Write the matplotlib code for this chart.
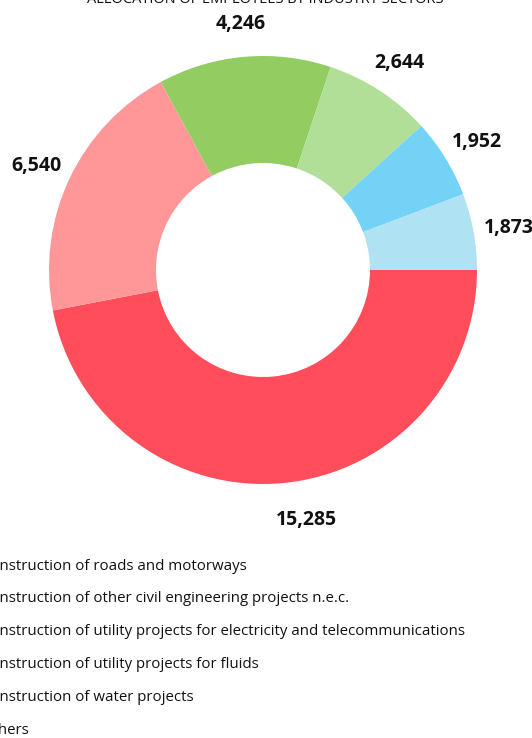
import matplotlib
matplotlib.use("Agg")
import matplotlib.pyplot as plt
import numpy as np

title = "ALLOCATION OF EMPLOYEES BY INDUSTRY SECTORS"
categories = [
    "Construction of roads and motorways",
    "Construction of other civil engineering projects n.e.c.",
    "Construction of utility projects for electricity and telecommunications",
    "Construction of utility projects for fluids",
    "Construction of water projects",
    "Others",
]
values = [15285, 6540, 4246, 2644, 1952, 1873]
colors = ["#FF4D5C", "#FF9799", "#93CD62", "#B2DF97", "#74D2F6", "#AFE2F3"]

plt.rcParams['font.family'] = ['Open Sans', 'DejaVu Sans']

W, H = 532, 738
fig = plt.figure(figsize=(W / 100, H / 100), dpi=100)
cx, cy, R = 263, 270, 214
ax = fig.add_axes([(cx - R) / W, (H - cy - R) / H, 2 * R / W, 2 * R / H])
wedges, _ = ax.pie(values, colors=colors, startangle=0, counterclock=False,
                   radius=1.0, wedgeprops=dict(width=0.5, linewidth=0))
ax.set_xlim(-1, 1)
ax.set_ylim(-1, 1)
ax.set_aspect('equal')
ax.axis('off')

for i, (w, v) in enumerate(zip(wedges, values)):
    mid = (w.theta1 + w.theta2) / 2
    if i == 0:
        mid += 4.5
    ang = np.deg2rad(mid)
    r = 1.17
    ax.text(r * np.cos(ang), r * np.sin(ang) - 0.014, f"{v:,}", ha='center', va='center',
            fontsize=14, fontweight='bold', color='#111111')

fig.text(265 / W, 1 - 3 / H, title, ha='center', va='baseline', fontsize=10.5, color='#111111')

y0 = 566
dy = 32.8
for i, lab in enumerate(categories):
    fig.text(-19 / W, 1 - (y0 + i * dy) / H, lab, ha='left', va='center', fontsize=10.8, color='#111111')

fig.savefig("out.png", dpi=100)
